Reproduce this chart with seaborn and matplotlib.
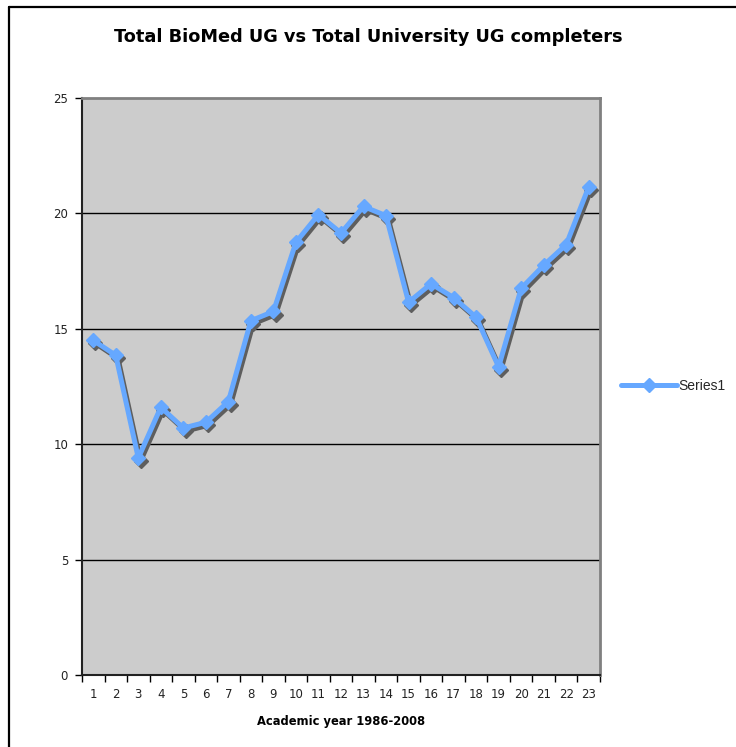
import numpy as np
import pandas as pd
import seaborn as sns
import matplotlib
matplotlib.use("Agg")
import matplotlib.pyplot as plt
import matplotlib.transforms as mtransforms
from matplotlib.lines import Line2D

# Ratio values per academic year (1986-2008)
years = list(range(1, 24))
series1 = [14.5, 13.85, 9.4, 11.6, 10.7, 10.95, 11.85, 15.35, 15.75, 18.75,
           19.95, 19.15, 20.3, 19.9, 16.15, 16.95, 16.35, 15.5, 13.35, 16.75,
           17.75, 18.65, 21.15]
y_ticks = [0, 5, 10, 15, 20, 25]

title = "Total BioMed UG vs Total University UG completers"
x_label = "Academic year 1986-2008"
series_name = "Series1"

sns.set_theme(style="white")
plt.rcParams["font.family"] = ["DejaVu Sans"]

line_color = "#66A8FF"
shadow_color = "#5E5E5E"

df = pd.DataFrame({"pos": np.arange(len(years)), "value": series1})

fig = plt.figure(figsize=(7.36, 7.47), dpi=100)
ax = fig.add_axes([82 / 736, 1 - 675 / 747, 518 / 736, 577 / 747])
ax.set_facecolor("#CCCCCC")

# drop shadow: the same series, nudged right and down
sns.lineplot(data=df, x="pos", y="value", ax=ax, color=shadow_color,
             linewidth=3.6, marker="D", markersize=7, markeredgecolor=shadow_color,
             markeredgewidth=1, legend=False, zorder=2)
shadow_line = ax.lines[-1]
shadow_line.set_transform(ax.transData + mtransforms.ScaledTranslation(
    1.6 / 72, -2.2 / 72, fig.dpi_scale_trans))

sns.lineplot(data=df, x="pos", y="value", ax=ax, color=line_color,
             linewidth=3.6, marker="D", markersize=7, markeredgecolor=line_color,
             markeredgewidth=1, legend=False, zorder=3)

ax.set_xlim(-0.5, len(years) - 0.5)
ax.set_ylim(0, 25)

# category boundaries carry the tick marks, centres carry the labels
ax.set_xticks(np.arange(-0.5, len(years), 1.0))
ax.set_xticklabels([])
ax.set_xticks(np.arange(len(years)), minor=True)
ax.set_xticklabels([str(y) for y in years], minor=True)
ax.tick_params(axis="x", which="major", direction="out", length=5, width=1,
               color="black", bottom=True)
ax.tick_params(axis="x", which="minor", length=0, pad=9, labelsize=8.5,
               labelcolor="#222222")

ax.set_yticks(y_ticks)
ax.set_yticklabels([str(v) for v in y_ticks])
ax.tick_params(axis="y", direction="out", length=5, width=1, color="black",
               left=True, labelsize=8.5, pad=5, labelcolor="#222222")

ax.grid(False)
for v in y_ticks[1:-1]:
    ax.axhline(v, color="black", linewidth=1, zorder=1)

for side in ("top", "right"):
    ax.spines[side].set_color("#808080")
    ax.spines[side].set_linewidth(2)
for side in ("left", "bottom"):
    ax.spines[side].set_color("#222222")
    ax.spines[side].set_linewidth(1.5)

ax.set_xlabel("")
ax.set_ylabel("")

fig.text(368 / 736, 1 - 37 / 747, title, ha="center", va="center",
         fontsize=12.8, fontweight="bold", color="black")
fig.text(341 / 736, 1 - 722 / 747, x_label, ha="center", va="center",
         fontsize=8.3, fontweight="bold", color="black")

handle = Line2D([0], [0], color=line_color, linewidth=3.6, marker="D",
                markersize=7, markeredgecolor=line_color)
fig.legend([handle], [series_name], loc="center left",
           bbox_to_anchor=(621 / 736, 1 - 386 / 747), frameon=False,
           prop={"family": "Liberation Sans", "size": 10},
           handlelength=4.0, handletextpad=0.1, borderpad=0, borderaxespad=0)

# outer chart frame
fig.add_artist(Line2D([9 / 736, 9 / 736], [0, 1 - 7 / 747], color="black",
                      linewidth=1.6, transform=fig.transFigure))
fig.add_artist(Line2D([9 / 736, 1], [1 - 7 / 747, 1 - 7 / 747], color="black",
                      linewidth=1.6, transform=fig.transFigure))

fig.savefig("out.png", dpi=100, facecolor="white")
